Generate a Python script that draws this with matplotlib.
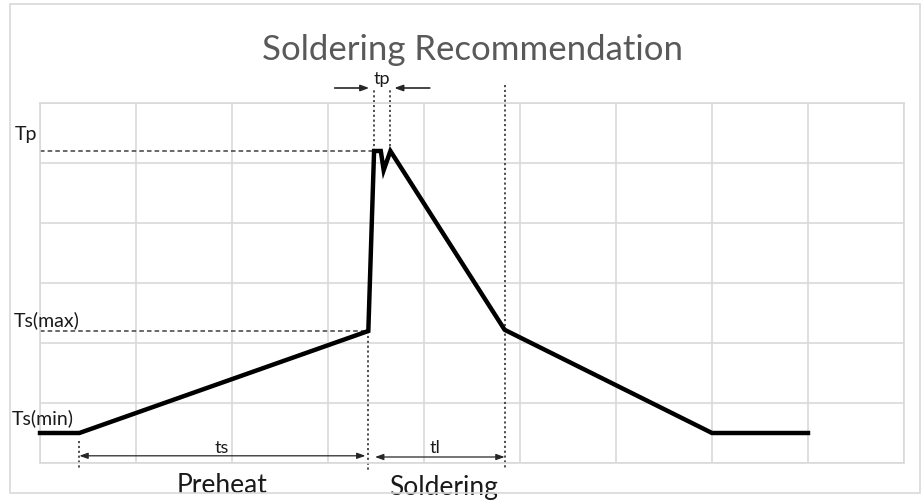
import matplotlib.pyplot as plt
from matplotlib.patches import Rectangle

plt.rcParams['font.family'] = ['Lato', 'DejaVu Sans']

# reflow profile, in grid units (9 columns x 6 rows)
profile_x = [0, 0.41, 3.42, 3.48, 3.55, 3.58, 3.65, 4.84, 7.0, 8.0]
profile_y = [0.5, 0.5, 2.2, 5.2, 5.2, 4.88, 5.2, 2.22, 0.5, 0.5]

level_names = ['Tp', 'Ts(max)', 'Ts(min)']
level_y = [5.2, 2.2, 0.5]

ts_start, ts_end = 0.41, 3.42
tp_start, tp_end = 3.48, 3.65
tl_start, tl_end = 3.46, 4.84

fig = plt.figure(figsize=(9.22, 5.0), dpi=100)
fig.patches.append(Rectangle((10 / 922, 7 / 500), 910 / 922, 489 / 500, fill=False,
                             edgecolor='#d9d9d9', lw=1.2, transform=fig.transFigure))
ax = fig.add_axes([40 / 922, 37 / 500, 864 / 922, 360 / 500])
ax.set_xlim(0, 9)
ax.set_ylim(0, 6)
ax.set_xticks(range(10))
ax.set_yticks(range(7))
ax.grid(True, color='#d9d9d9', lw=1.2)
ax.tick_params(length=0, labelbottom=False, labelleft=False)
for s in ax.spines.values():
    s.set_color('#d9d9d9')
    s.set_linewidth(1.2)

ax.plot(profile_x, profile_y, color='black', lw=3.2, solid_joinstyle='miter', zorder=5, clip_on=False)

# level guides
dash = dict(color='#404040', lw=1.1, ls=(0, (3, 2)), clip_on=False)
ax.plot([0, profile_x[3]], [level_y[0], level_y[0]], **dash)
ax.plot([0, ts_end], [level_y[1], level_y[1]], **dash)

dot = dict(color='#404040', lw=1.3, ls=(0, (1.2, 1.5)), clip_on=False)
ax.plot([tp_start, tp_start], [level_y[0], 6.22], **dot)
ax.plot([tp_end, tp_end], [level_y[0], 6.22], **dot)
ax.plot([ts_end, ts_end], [level_y[1], -0.12], **dot)
ax.plot([tl_end, tl_end], [6.3, -0.12], **dot)
ax.plot([ts_start, ts_start], [0.36, -0.08], **dot)

lab = dict(fontsize=14, va='center', ha='left', color='#1a1a1a')
ax.text(-0.26, 5.47, level_names[0], **lab)
ax.text(-0.27, 2.38, level_names[1], **lab)
ax.text(-0.29, 0.75, level_names[2], **lab)

# spans
arr = dict(arrowstyle='<|-|>,head_length=0.5,head_width=0.18', color='#262626', lw=0.9,
           shrinkA=0, shrinkB=0)
ax.annotate('', xy=(ts_start, 0.12), xytext=(ts_end - 0.03, 0.12), arrowprops=arr, annotation_clip=False)
ax.annotate('', xy=(tl_start + 0.03, 0.1), xytext=(tl_end, 0.1), arrowprops=arr, annotation_clip=False)
one = dict(arrowstyle='-|>,head_length=0.5,head_width=0.18', color='#262626', lw=1.2,
           shrinkA=0, shrinkB=0)
ax.annotate('', xy=(tp_start - 0.05, 6.25), xytext=(3.07, 6.25), arrowprops=one, annotation_clip=False)
ax.annotate('', xy=(tp_end + 0.04, 6.25), xytext=(4.06, 6.25), arrowprops=one, annotation_clip=False)

small = dict(fontsize=13, ha='center', va='bottom', color='#1a1a1a')
ax.text((ts_start + ts_end) / 2 - 0.02, 0.11, 'ts', **small)
ax.text((tl_start + tl_end) / 2 - 0.04, 0.11, 'tl', **small)
ax.text((tp_start + tp_end) / 2, 6.27, 'tp', **small)

ax.text(1.9, -0.37, 'Preheat', fontsize=19, ha='center', va='center', color='#1a1a1a')
ax.text(4.2, -0.41, 'Soldering', fontsize=19, ha='center', va='center', color='#1a1a1a')

fig.text(472 / 922, 1 - 50 / 500, 'Soldering Recommendation', fontsize=25, ha='center',
         va='center', color='#595959')

fig.savefig('out.png', dpi=100)
